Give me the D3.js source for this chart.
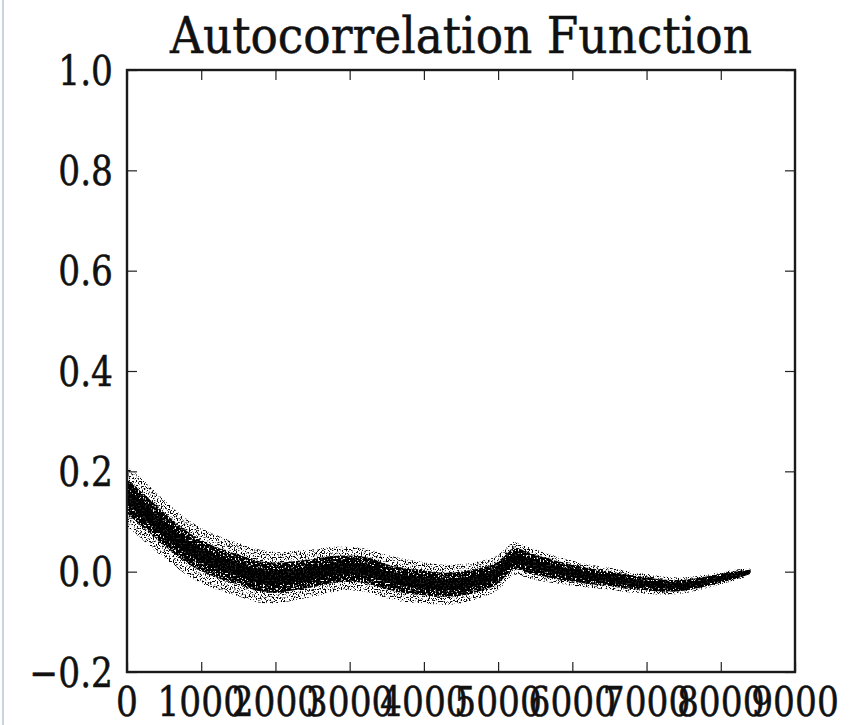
<!DOCTYPE html>
<html>
<head>
<meta charset="utf-8">
<script src="https://cdn.jsdelivr.net/npm/d3@7/dist/d3.min.js"></script>
<style>
  html, body { margin: 0; padding: 0; background: #ffffff; }
  svg { display: block; }
  text { font-family: "DejaVu Serif", serif; fill: #111; stroke: #111; stroke-width: 0.5px; }
</style>
</head>
<body>
<div id="chart"></div>
<script>
// ---- data ----
const title = "Autocorrelation Function";
const xTicks = [0, 1000, 2000, 3000, 4000, 5000, 6000, 7000, 8000, 9000];
const yTicks = [-0.2, 0.0, 0.2, 0.4, 0.6, 0.8, 1.0];
// lag positions sampled along the scatter band
const lags = [0, 250, 500, 750, 1000, 1250, 1500, 1750, 2000, 2250, 2500, 2750, 3000, 3250, 3500, 3750,
  4000, 4250, 4500, 4750, 4950, 5100, 5200, 5300, 5450, 5600, 5800, 6000, 6250, 6500, 6750, 7000, 7250,
  7500, 7750, 8000, 8250, 8400];
// centre of the band (autocorrelation value)
const acfCenter = [0.150, 0.118, 0.085, 0.055, 0.032, 0.016, 0.004, -0.008, -0.012, -0.008, -0.003, 0.004,
  0.006, 0.002, -0.010, -0.018, -0.022, -0.026, -0.024, -0.016, -0.006, 0.012, 0.026, 0.024, 0.016,
  0.010, 0.003, -0.003, -0.009, -0.014, -0.020, -0.024, -0.028, -0.027, -0.021, -0.013, -0.005, 0.000];
// half-thickness of the dense core of the band
const acfCore = [0.034, 0.034, 0.033, 0.032, 0.031, 0.030, 0.030, 0.030, 0.030, 0.029, 0.028, 0.027,
  0.026, 0.026, 0.025, 0.025, 0.025, 0.024, 0.024, 0.023, 0.022, 0.021, 0.021, 0.021, 0.020,
  0.019, 0.018, 0.017, 0.016, 0.015, 0.014, 0.013, 0.012, 0.011, 0.010, 0.009, 0.007, 0.004];
// half-thickness of the sparse outer scatter
const acfSpread = [0.060, 0.060, 0.058, 0.056, 0.055, 0.054, 0.053, 0.053, 0.051, 0.049, 0.047, 0.045,
  0.043, 0.043, 0.043, 0.043, 0.041, 0.040, 0.039, 0.037, 0.035, 0.034, 0.033, 0.032, 0.031,
  0.029, 0.027, 0.025, 0.023, 0.022, 0.021, 0.020, 0.018, 0.016, 0.014, 0.012, 0.010, 0.006];

// ---- layout ----
const W = 864, H = 725;
const M = { left: 127, right: 795, top: 70, bottom: 672 };
const sx = 0.84;   // horizontal squeeze of tick-label glyphs
const sxT = 0.91;  // horizontal squeeze of the title

const svg = d3.select("#chart").append("svg").attr("width", W).attr("height", H);

// light-blue border on the very left of the picture
svg.append("line").attr("x1", 3).attr("x2", 3).attr("y1", 0).attr("y2", H)
  .attr("stroke", "#c8d4e4").attr("stroke-width", 2);

const x = d3.scaleLinear().domain([0, 9000]).range([M.left, M.right]);
const y = d3.scaleLinear().domain([-0.2, 1.0]).range([M.bottom, M.top]);

const defs = svg.append("defs");
function grain(id, freq, seed, offset) {
  const f = defs.append("filter").attr("id", id).attr("x", "-5%").attr("y", "-50%")
    .attr("width", "110%").attr("height", "200%");
  f.append("feTurbulence").attr("type", "fractalNoise").attr("baseFrequency", freq)
    .attr("numOctaves", 1).attr("seed", seed).attr("result", "noise");
  f.append("feColorMatrix").attr("in", "noise").attr("type", "matrix")
    .attr("values", `0 0 0 0 0  0 0 0 0 0  0 0 0 0 0  0 0 0 10 ${offset}`).attr("result", "mask");
  f.append("feComposite").attr("in", "SourceGraphic").attr("in2", "mask").attr("operator", "in");
}
grain("sparse", 0.75, 3, -5.2);
grain("dense", 0.6, 7, -3.6);

defs.append("clipPath").attr("id", "plotclip").append("rect")
  .attr("x", M.left).attr("y", M.top).attr("width", M.right - M.left).attr("height", M.bottom - M.top);

const pts = lags.map((l, i) => ({ l, c: acfCenter[i], k: acfCore[i], s: acfSpread[i] }));
const curve = d3.curveCatmullRom.alpha(0.5);
const band = f => d3.area().x(d => x(d.l)).y0(d => y(d.c - f(d))).y1(d => y(d.c + f(d))).curve(curve);

const plot = svg.append("g").attr("clip-path", "url(#plotclip)");
// sparse outer scatter
plot.append("path").datum(pts).attr("d", band(d => d.s))
  .attr("fill", "#000").attr("filter", "url(#sparse)");
// dense core (speckled)
plot.append("path").datum(pts).attr("d", band(d => d.k))
  .attr("fill", "#000").attr("filter", "url(#dense)");
plot.append("path").datum(pts).attr("d", band(d => d.k * 0.75))
  .attr("fill", "#000").attr("filter", "url(#dense)");
// darkest middle
plot.append("path").datum(pts).attr("d", band(d => d.k * 0.45))
  .attr("fill", "#000").attr("opacity", 0.85);

// ---- axes: ticks inward on all four sides ----
const tl = 10;
const bottomAxis = d3.axisBottom(x).tickValues(xTicks).tickSize(-tl).tickFormat("");
const topAxis = d3.axisTop(x).tickValues(xTicks).tickSize(-tl).tickFormat("");
const leftAxis = d3.axisLeft(y).tickValues(yTicks).tickSize(-tl).tickFormat("");
const rightAxis = d3.axisRight(y).tickValues(yTicks).tickSize(-tl).tickFormat("");

function styleAxis(g) {
  g.select(".domain").remove();
  g.selectAll(".tick line").attr("stroke", "#222").attr("stroke-width", 1.2);
}
svg.append("g").attr("transform", `translate(0,${M.bottom})`).call(bottomAxis).call(styleAxis);
svg.append("g").attr("transform", `translate(0,${M.top})`).call(topAxis).call(styleAxis);
svg.append("g").attr("transform", `translate(${M.left},0)`).call(leftAxis).call(styleAxis);
svg.append("g").attr("transform", `translate(${M.right},0)`).call(rightAxis).call(styleAxis);

// frame
svg.append("rect").attr("x", M.left).attr("y", M.top)
  .attr("width", M.right - M.left).attr("height", M.bottom - M.top)
  .attr("fill", "none").attr("stroke", "#1a1a1a").attr("stroke-width", 2.4);

// tick labels
const fmtY = v => (v < 0 ? "\u2212" : "") + Math.abs(v).toFixed(1);
svg.append("g").selectAll("text").data(yTicks).join("text")
  .attr("transform", d => `translate(${M.left - 14},${y(d)}) scale(${sx},1)`)
  .attr("text-anchor", "end").attr("dy", "0.36em")
  .attr("font-size", 41).text(fmtY);

svg.append("g").selectAll("text").data(xTicks).join("text")
  .attr("transform", d => `translate(${x(d)},${M.bottom + 44}) scale(${sx},1)`)
  .attr("text-anchor", "middle")
  .attr("font-size", 41).text(d => String(d));

// title
svg.append("text")
  .attr("transform", `translate(${(M.left + M.right) / 2},53) scale(${sxT},1)`)
  .attr("text-anchor", "middle").attr("font-size", 50).text(title);
</script>
</body>
</html>
